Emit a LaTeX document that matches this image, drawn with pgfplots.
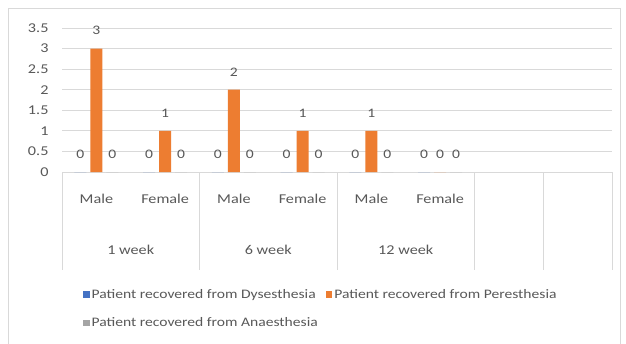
\documentclass[border=0pt]{standalone}
\usepackage{fontspec}
\setmainfont{Carlito}[FakeStretch=1.2]
\usepackage{pgfplots}
\pgfplotsset{compat=1.18}
\definecolor{dysblue}{HTML}{4472C4}
\definecolor{perorange}{HTML}{ED7D31}
\definecolor{anagray}{HTML}{A5A5A5}
\definecolor{txtgray}{HTML}{595959}
\definecolor{gridgray}{HTML}{D9D9D9}

\begin{document}
\begin{tikzpicture}[x=1bp,y=1bp]
\useasboundingbox (0,0) rectangle (626,343);
\fill[white] (0,0) rectangle (626,343);
% chart frame
\draw[gridgray, line width=0.8bp] (8,-2) -- (8,335) -- (620,335) -- (620,-2);
\begin{axis}[
  at={(62bp,171bp)}, anchor=south west,
  scale only axis, width=550bp, height=144bp,
  clip=false,
  ybar=4bp, bar width=12bp,
  xmin=-0.5, xmax=7.5, ymin=0, ymax=3.5,
  ytick={0,0.5,1,1.5,2,2.5,3,3.5},
  xtick={0,1,2,3,4,5},
  xticklabels={Male,Female,Male,Female,Male,Female},
  extra x ticks={0.5,2.5,4.5},
  extra x tick labels={1 week,6 week,12 week},
  extra x tick style={grid=none, tick label style={yshift=-51bp}},
  ymajorgrids, grid style={gridgray, line width=0.8bp},
  axis line style={draw=none},
  major tick length=0pt,
  tick style={draw=none},
  /pgf/number format/assume math mode=true,
  tick label style={font=\fontsize{13.5bp}{15bp}\selectfont, text=txtgray},
  yticklabel style={xshift=-10bp},
  xticklabel style={yshift=-19bp},
  nodes near coords,
  every node near coord/.append style={font=\fontsize{13bp}{15bp}\selectfont, text=txtgray, yshift=10bp},
  legend columns=2,
  legend cell align=left,
  legend style={at={(0.038,-0.80)}, anchor=north west, draw=none, fill=none,
    font=\fontsize{13bp}{15bp}\selectfont, text=txtgray,
    /tikz/every even column/.append style={column sep=6bp},
    row sep=14bp, inner sep=0pt},
  legend image code/.code={\fill[#1] (0bp,-3.2bp) rectangle (6.5bp,3.2bp);},
]
\addplot[fill=dysblue, draw=none] coordinates {(0,0) (1,0) (2,0) (3,0) (4,0) (5,0)};
\addplot[fill=perorange, draw=none] coordinates {(0,3) (1,1) (2,2) (3,1) (4,1) (5,0)};
\addplot[fill=anagray, draw=none] coordinates {(0,0) (1,0) (2,0) (3,0) (4,0) (5,0)};
\legend{Patient recovered from Dysesthesia, Patient recovered from Peresthesia, Patient recovered from Anaesthesia}
% category group separators
\pgfplotsinvokeforeach{-0.5,1.5,3.5,5.5,6.5,7.5}{
  \draw[gridgray, line width=0.8bp] (axis cs:#1,0) -- ++(0bp,-98bp);
}
\end{axis}
\end{tikzpicture}
\end{document}
